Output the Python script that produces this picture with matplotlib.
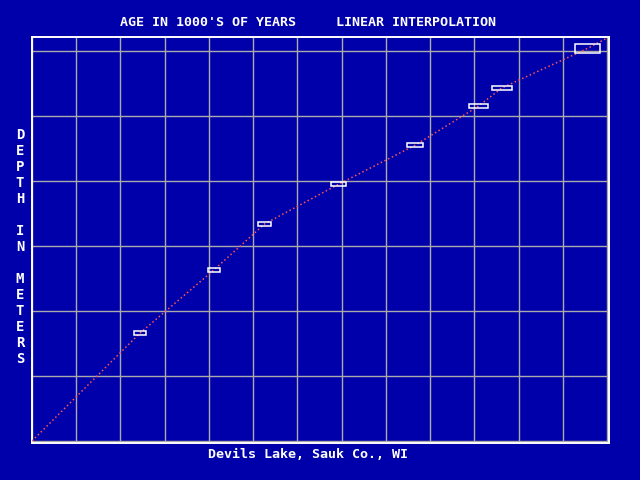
import matplotlib.pyplot as plt
from matplotlib.patches import Rectangle

# age in 1000's of years (x) and depth (y)
ages = [2.44, 4.11, 5.26, 6.93, 8.66, 10.09, 10.62, 12.56]
depths = [1.66, 2.63, 3.34, 3.95, 4.55, 5.15, 5.43, 6.04]
age_err = [0.27, 0.27, 0.29, 0.34, 0.36, 0.43, 0.45, 0.57]
depth_err = [0.05, 0.06, 0.05, 0.06, 0.06, 0.06, 0.06, 0.14]

# interpolation line runs from the origin through the samples to the corner
line_x = [0.0] + ages + [13.0]
line_y = [0.0] + depths + [6.2]

x_ticks = list(range(0, 14))
y_ticks = list(range(0, 7))

BG = '#0000AA'
GRID = '#AAAAAA'
MONO = 'DejaVu Sans Mono'

fig = plt.figure(figsize=(6.4, 4.8), dpi=100, facecolor=BG)
W, H = 640, 480
# axes box in pixels: left 32, right 609, top 37, bottom 443
ax = fig.add_axes([32 / W, 1 - 443 / H, (609 - 32) / W, (443 - 37) / H])
ax.set_facecolor(BG)
px_x = (607 - 32) / 13.0
px_y = 65.0
ax.set_xlim(0, (609 - 32) / px_x)
ax.set_ylim(-2 / px_y, (441 - 37) / px_y)

for xv in x_ticks:
    ax.axvline(xv, color=GRID, lw=1.0, zorder=1)
for yv in y_ticks:
    ax.axhline(yv, color=GRID, lw=1.0, zorder=1)

for s in ax.spines.values():
    s.set_color('white')
    s.set_linewidth(1.4)
ax.set_xticks([])
ax.set_yticks([])

ax.plot(line_x, line_y, color='#FF5555', lw=1.1, linestyle=(0, (1, 1.7)), zorder=3)

for a, d, we, he in zip(ages, depths, age_err, depth_err):
    ax.add_patch(Rectangle((a - we / 2, d - he / 2), we, he, fill=False,
                           edgecolor='white', lw=1.1, zorder=4))

fig.text(308 / W, 1 - 22 / H, "AGE IN 1000'S OF YEARS     LINEAR INTERPOLATION",
         color='white', family=MONO, weight='bold', fontsize=9.6,
         ha='center', va='center')
fig.text(308 / W, 1 - 455 / H, "Devils Lake, Sauk Co., WI",
         color='white', family=MONO, weight='bold', fontsize=9.6,
         ha='center', va='center')

label = "DEPTH IN METERS"
for i, ch in enumerate(label):
    if ch == ' ':
        continue
    fig.text(20 / W, 1 - (135 + 16 * i) / H, ch, color='white', family=MONO,
             weight='bold', fontsize=10, ha='center', va='center')

fig.savefig('out.png', dpi=100, facecolor=BG)
